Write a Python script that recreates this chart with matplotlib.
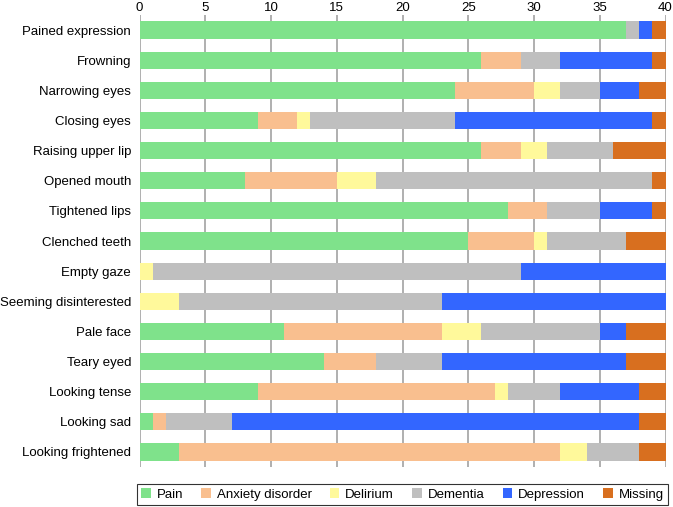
import numpy as np
import matplotlib
matplotlib.use("Agg")
import matplotlib.pyplot as plt
from matplotlib.patches import Patch

plt.rcParams["font.family"] = ["Liberation Sans", "DejaVu Sans"]

expressions = [
    "Pained expression", "Frowning", "Narrowing eyes", "Closing eyes",
    "Raising upper lip", "Opened mouth", "Tightened lips", "Clenched teeth",
    "Empty gaze", "Seeming disinterested", "Pale face", "Teary eyed",
    "Looking tense", "Looking sad", "Looking frightened",
]
categories = ["Pain", "Anxiety disorder", "Delirium", "Dementia", "Depression", "Missing"]

pain       = [37, 26, 24, 9, 26, 8, 28, 25, 0, 0, 11, 14, 9, 1, 3]
anxiety    = [0, 3, 6, 3, 3, 7, 3, 5, 0, 0, 12, 4, 18, 1, 29]
delirium   = [0, 0, 2, 1, 2, 3, 0, 1, 1, 3, 3, 0, 1, 0, 2]
dementia   = [1, 3, 3, 11, 5, 21, 4, 6, 28, 20, 9, 5, 4, 5, 4]
depression = [1, 7, 3, 15, 0, 0, 4, 0, 11, 17, 2, 14, 6, 31, 0]
missing    = [1, 1, 2, 1, 4, 1, 1, 3, 0, 0, 3, 3, 2, 2, 2]

colors = ["#7fe28b", "#f9bf8f", "#fff99b", "#bfbfbf", "#3366ff", "#d86f1f"]

fig = plt.figure(figsize=(6.73, 5.07), dpi=100)
ax = fig.add_axes([139.5 / 673, 1 - 467 / 507, (665.5 - 139.5) / 673, (467 - 15) / 507])

series = [pain, anxiety, delirium, dementia, depression, missing]
y = np.arange(len(expressions))
left = np.zeros(len(expressions))
for vals, col in zip(series, colors):
    ax.barh(y, vals, left=left, height=0.57, color=col, edgecolor="none", zorder=2)
    left += np.array(vals)

ax.set_xlim(0, 40)
ax.set_ylim(len(expressions) - 0.5, -0.5)
ax.set_yticks(y)
ax.set_yticklabels(expressions, fontsize=9.5)
ax.set_xticks(range(0, 41, 5))
ax.xaxis.tick_top()
ax.tick_params(axis="x", labelsize=9.5, length=0, pad=1)
ax.tick_params(axis="y", length=0, pad=6)
ax.grid(axis="x", color="#9a9a9a", linewidth=1.1, zorder=0)
for s in ax.spines.values():
    s.set_visible(False)

handles = [Patch(facecolor=c, edgecolor="none") for c in colors]
leg = fig.legend(handles, categories, loc="center",
                 bbox_to_anchor=((138 + 667) / 2 / 673, 1 - 494.5 / 507),
                 ncol=6, fontsize=9.5, frameon=True, fancybox=False,
                 handlelength=0.7, handleheight=0.7, handletextpad=0.45,
                 columnspacing=1.4, borderpad=0.35, borderaxespad=0)
leg.get_frame().set_edgecolor("black")
leg.get_frame().set_linewidth(0.8)

fig.savefig("out.png", dpi=100)
